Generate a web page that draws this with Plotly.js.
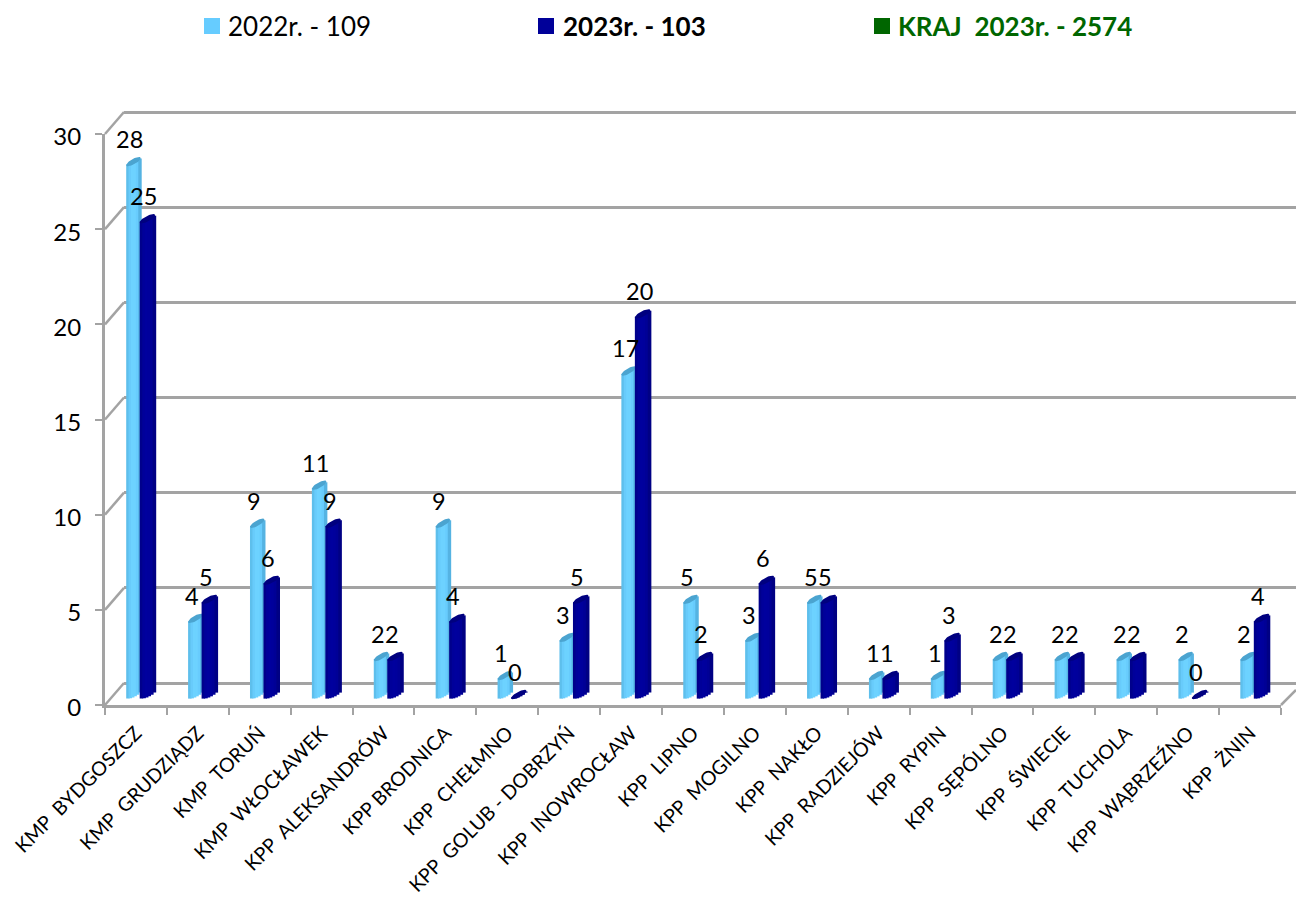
<!DOCTYPE html>
<html><head><meta charset="utf-8">
<script src="https://cdn.plot.ly/plotly-3.0.1.min.js"></script>
<style>html,body{margin:0;padding:0;background:#fff;overflow:hidden}#c{width:1296px;height:897px}</style>
</head><body><div id="c"></div>
<script>
const categories = ["KMP\u00a0\u00a0BYDGOSZCZ","KMP\u00a0\u00a0GRUDZIĄDZ","KMP\u00a0\u00a0TORUŃ","KMP\u00a0\u00a0WŁOCŁAWEK","KPP\u00a0\u00a0ALEKSANDRÓW","KPP\u00a0BRODNICA","KPP\u00a0\u00a0CHEŁMNO","KPP\u00a0\u00a0GOLUB\u00a0-\u00a0DOBRZYŃ","KPP\u00a0\u00a0INOWROCŁAW","KPP\u00a0\u00a0LIPNO","KPP\u00a0\u00a0MOGILNO","KPP\u00a0\u00a0NAKŁO","KPP\u00a0\u00a0RADZIEJÓW","KPP\u00a0\u00a0RYPIN","KPP\u00a0\u00a0SĘPÓLNO","KPP\u00a0\u00a0ŚWIECIE","KPP\u00a0\u00a0TUCHOLA","KPP\u00a0\u00a0WĄBRZEŹNO","KPP\u00a0\u00a0ŻNIN"];
const values2022 = [28,4,9,11,2,9,1,3,17,5,3,5,1,1,2,2,2,2,2];
const values2023 = [25,5,6,9,2,4,0,5,20,2,6,5,1,3,2,2,2,0,4];

const FONT = "Lato, Carlito, Calibri, sans-serif";
const GRID = "#a3a3a3";
const L=105, R=1296, TOP=100, BOT=705, FRONT_R=1281, FRONT_T=134;
const W=R-L, H=BOT-TOP;
const PXX=(FRONT_R-L)/19, PXY=(BOT-FRONT_T)/30;
const idx = categories.map((_,i)=>i);
const px2paperX = p=>(p-L)/W, px2paperY = p=>(BOT-p)/H;

const frontX=[0,(FRONT_R-L)/W], frontY=[0,(BOT-FRONT_T)/H];
const traces=[];
const backDX=19, backDY=22;
traces.push({type:'scatter',mode:'none',x:[0],y:[0],xaxis:'x',yaxis:'y',hoverinfo:'skip',showlegend:false});
traces.push({type:'scatter',mode:'none',x:categories,y:categories.map(()=>0),xaxis:'x2',yaxis:'y2',hoverinfo:'skip',showlegend:false});

function cylinder(values,xa,ya,opts){
  const n=opts.colors.length, w=opts.width, out=[];
  const slope=opts.slope, minor=opts.minor;
  for(let k=0;k<n;k++){
    const u=-1+(2*k+1)/n;
    const slant=slope*u;
    const low=minor*Math.sqrt(Math.max(0,1-u*u));
    const bottom=0.58+(slant-low)/PXY;
    const top=0.55+slant/PXY;
    out.push({type:'bar',x:idx,y:values.map(v=>v+top-bottom),base:values.map(()=>bottom),
      offset:(opts.off+w*(u-1/n)/2)/PXX,width:(w/n+1)/PXX,xaxis:xa,yaxis:ya,
      marker:{color:opts.colors[k],line:{width:0}},hoverinfo:'skip',showlegend:false});
  }
  const cx=[],cy=[];
  values.forEach((v,i)=>{
    for(let a=0;a<=40;a++){
      const t=a/40*2*Math.PI;
      const u=Math.cos(t);
      cx.push(i+(opts.off+u*w/2)/PXX);
      cy.push(v+0.55+(slope*u+minor*Math.sin(t))/PXY);
    }
    cx.push(null);cy.push(null);
  });
  out.push({type:'scatter',mode:'lines',x:cx,y:cy,xaxis:xa,yaxis:ya,fill:'toself',fillcolor:opts.cap,
    line:{width:0,color:opts.cap},hoverinfo:'skip',showlegend:false,cliponaxis:false});
  return out;
}
const OFF_A=-2.5, OFF_B=11.5;
traces.push(...cylinder(values2022,'x3','y3',{off:OFF_A,width:14.5,slope:3.6,minor:3,cap:'#4ba4d0',
  colors:['#5ebfec','#68cbfb','#6dd2ff','#6dd2ff','#68ccfd','#55b3e2']}));
traces.push(...cylinder(values2023,'x4','y4',{off:OFF_B,width:15.5,slope:3.6,minor:3,cap:'#00007f',
  colors:['#00008c','#00009a','#00009e','#00009c','#000096','#000084']}));

const annotations=[];
function labels(values,off,xref,yref){
  values.forEach((v,i)=>annotations.push({text:String(v),x:i+off/PXX,y:v+0.55,xref,yref,showarrow:false,
    xshift:-3.5,yshift:22.5,xanchor:'center',yanchor:'middle',font:{family:FONT,size:23.5,color:'#000'}}));
}
labels(values2022,OFF_A,'x3','y3');
labels(values2023,OFF_B,'x4','y4');

const legendItems=[
 {text:'2022r. - 109',sq:204,tx:226,color:'#000',sqc:'#66ccff'},
 {text:'<b>2023r. - 103</b>',sq:538,tx:561,color:'#000',sqc:'#000099'},
 {text:'<b>KRAJ\u00a0\u00a02023r. - 2574</b>',sq:874,tx:896,color:'#006600',sqc:'#006600'}];
const shapes=[];
legendItems.forEach(o=>{
  shapes.push({type:'rect',xref:'paper',yref:'paper',x0:px2paperX(o.sq),x1:px2paperX(o.sq+16),y0:px2paperY(34),y1:px2paperY(18),fillcolor:o.sqc,line:{width:0}});
  annotations.push({text:o.text,xref:'paper',yref:'paper',x:px2paperX(o.tx),y:px2paperY(26),xanchor:'left',yanchor:'middle',showarrow:false,
    font:{family:FONT,size:26,color:o.color}});
});
[0,5,10,15,20,25,30].forEach(t=>{
  const py=BOT-t*PXY;
  shapes.push({type:'line',xref:'paper',yref:'paper',layer:'below',x0:px2paperX(L),y0:px2paperY(py),x1:px2paperX(L+backDX),y1:px2paperY(py-backDY),line:{color:GRID,width:2.5}});
});
shapes.push({type:'line',xref:'paper',yref:'paper',layer:'below',x0:px2paperX(FRONT_R),y0:px2paperY(BOT),x1:px2paperX(R),y1:px2paperY(BOT-15),line:{color:GRID,width:2.5}});

const hidden=(dom,anchor,range)=>({domain:dom,anchor,range,visible:false,fixedrange:true});
const rng=[-0.5,18.5];
const backBotPx=BOT-backDY+4;
const layout={
  width:1296,height:897,margin:{l:L,r:0,t:TOP,b:897-BOT,pad:0},paper_bgcolor:'#fff',plot_bgcolor:'rgba(0,0,0,0)',
  showlegend:false,hovermode:false,barmode:'overlay',font:{family:FONT,color:'#000'},
  xaxis:{domain:[backDX/W,1],anchor:'y',range:[0,1],visible:false,fixedrange:true},
  yaxis:{domain:[(BOT-backBotPx)/H,1],anchor:'x',fixedrange:true,
    range:[-4/PXY,(BOT-backDY-TOP)/PXY],tickmode:'array',tickvals:[0,5,10,15,20,25,30],showticklabels:false,ticks:'',
    showgrid:true,gridcolor:GRID,gridwidth:3,zeroline:false,showline:false},
  xaxis2:{domain:frontX,anchor:'y2',type:'category',categoryorder:'array',categoryarray:categories,range:rng,tickson:'boundaries',
    tickangle:-45,ticks:'outside',ticklen:7,tickwidth:2,tickcolor:GRID,showline:true,linecolor:GRID,linewidth:3,showgrid:false,zeroline:false,
    tickfont:{family:FONT,size:19.6,color:'#000'},fixedrange:true,ticklabelstandoff:6,automargin:false},
  yaxis2:{domain:frontY,anchor:'x2',range:[0,30],tickmode:'array',tickvals:[0,5,10,15,20,25,30],ticks:'outside',ticklen:7,tickwidth:2,tickcolor:GRID,
    showline:true,linecolor:GRID,linewidth:3,showgrid:false,zeroline:false,tickfont:{family:FONT,size:24,color:'#000'},fixedrange:true,ticklabelstandoff:9,ticklabelshift:3,automargin:false},
  xaxis3:hidden(frontX,'y3',rng),yaxis3:hidden(frontY,'x3',[0,30]),
  xaxis4:hidden(frontX,'y4',rng),yaxis4:hidden(frontY,'x4',[0,30]),
  shapes,annotations
};
Plotly.newPlot('c',traces,layout,{staticPlot:true,displayModeBar:false});
</script></body></html>
